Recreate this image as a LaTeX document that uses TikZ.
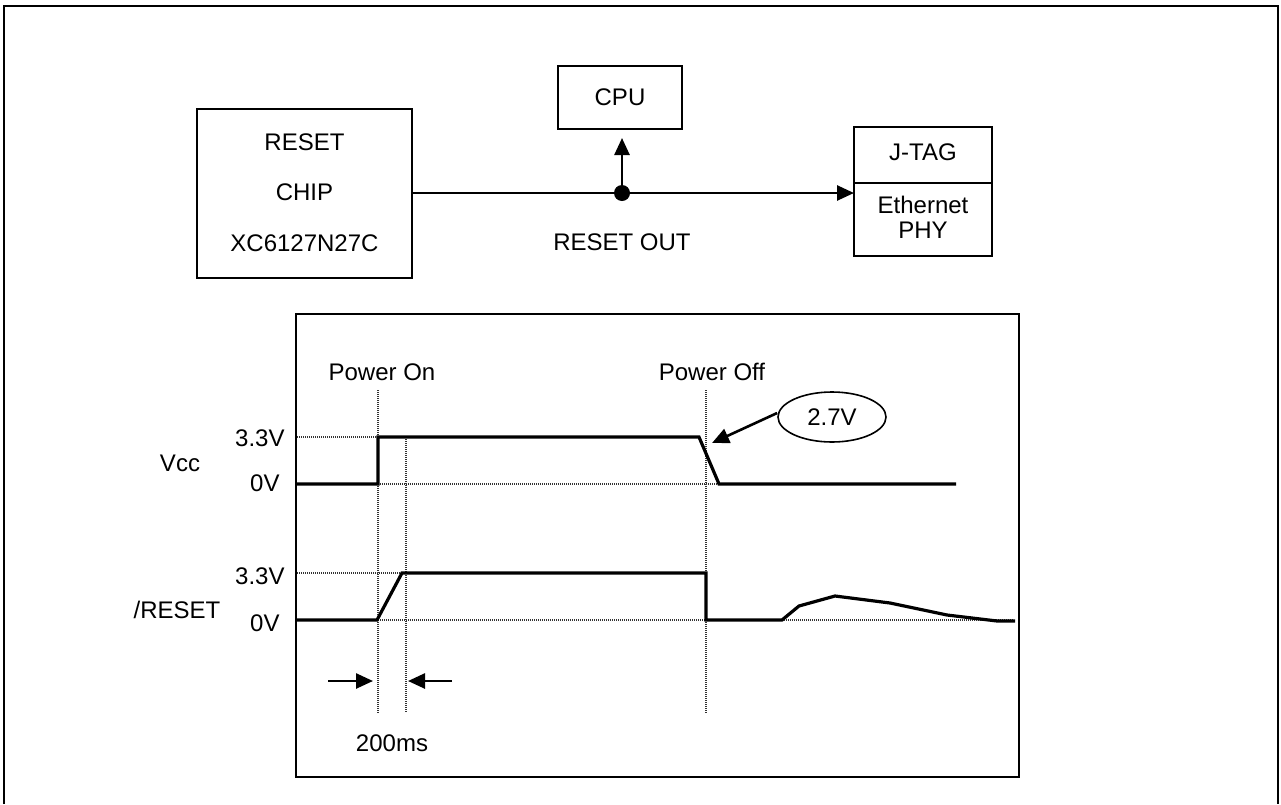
\documentclass[tikz,border=0pt]{standalone}
\usepackage{fontspec}
\setmainfont{Liberation Sans}
\usetikzlibrary{arrows.meta,shapes.geometric}
\begin{document}
\begin{tikzpicture}[x=0.5pt,y=-0.5pt,
  font=\fontsize{12pt}{14pt}\selectfont,
  box/.style={draw,line width=1pt,inner sep=0pt},
  txt/.style={inner sep=0pt},
  conn/.style={line width=1.3pt,-{Triangle[length=8.5pt,width=7.5pt]}},
  sig/.style={line width=1.6pt,line join=miter},
  dotl/.style={line width=0.7pt,dash pattern=on 0.5pt off 0.5pt,black!80},
  frame/.style={line width=1pt}]
\useasboundingbox (0,0) rectangle (1281,804);
% outer frame
\draw[frame] (4,804) -- (4,6) -- (1278,6) -- (1278,804);
% block diagram
\node[box,minimum width=107.5pt,minimum height=84.5pt] (chip) at (304.5,193) {};
\node[txt] (t1) at (304.5,142) {RESET};
\node[txt] (t2) at (304.5,192) {CHIP};
\node[txt] (t3) at (304.5,243) {XC6127N27C};
\node[box,minimum width=62pt,minimum height=31.5pt] (cpu) at (620,97.5) {};
\node[txt] (cput) at (620,97) {CPU};
\node[box,minimum width=69pt,minimum height=64.5pt] (jtag) at (923,191.5) {};
\coordinate (dl) at (854,183);
\coordinate (dr) at (992,183);
\draw[line width=1pt] (dl) -- (dr);
\node[txt] (jt) at (923,152) {J-TAG};
\node[txt] (et) at (923,205) {Ethernet};
\node[txt] (pt) at (923,230) {PHY};
\coordinate (j) at (622,193);
\coordinate (jin) at (854,193);
\draw[conn] (chip.east |- j) -- (jin);
\draw[conn,shorten >=4pt] (j) -- (j |- cpu.south);
\fill (j) circle (4pt);
\node[txt] (ro) at (622,242) {RESET OUT};
% timing box
\node[box,minimum width=361.5pt,minimum height=231.5pt] (tb) at (657.5,545.5) {};
\node[txt] (pon) at (382,372) {Power On};
\node[txt] (poff) at (712,372) {Power Off};
% dotted guides
\draw[dotl] (378,390) -- (378,713);
\draw[dotl] (406,437) -- (406,712);
\draw[dotl] (706,390) -- (706,713);
\draw[dotl] (297,437) -- (378,437);
\draw[dotl] (378,484) -- (719,484);
\draw[dotl] (297,573) -- (402,573);
\draw[dotl] (374,620) -- (1013,620);
% signals
\draw[sig] (297,484) -- (378,484) -- (378,437) -- (699,437) -- (719,484) -- (956,484);
\draw[sig] (297,620) -- (377,620) -- (402,573) -- (706,573) -- (706,620) -- (782,620)
  -- (799,606) -- (835,596) -- (890,603) -- (947,615) -- (997,621) -- (1015,621);
% labels
\node[txt,anchor=east] (a1) at (285,438) {3.3V};
\node[txt,anchor=east] (a2) at (280,483) {0V};
\node[txt,anchor=east] (a3) at (285,576) {3.3V};
\node[txt,anchor=east] (a4) at (280,623) {0V};
\node[txt] (vcc) at (180,463) {Vcc};
\node[txt] (rst) at (177,610) {/RESET};
% 2.7V callout
\node[draw,ellipse,line width=0.8pt,minimum width=54pt,minimum height=25pt,inner sep=0pt] (e27) at (832,417) {2.7V};
\coordinate (tip27) at (712,443);
\draw[conn] (e27.west) ++(-0pt,2pt) -- (tip27);
% 200ms
\coordinate (l1) at (328,681);
\coordinate (l2) at (373,681);
\coordinate (r1) at (452,681);
\coordinate (r2) at (408,681);
\draw[conn] (l1) -- (l2);
\draw[conn] (r1) -- (r2);
\node[txt] (ms) at (392,743) {200ms};
\end{tikzpicture}
\end{document}
